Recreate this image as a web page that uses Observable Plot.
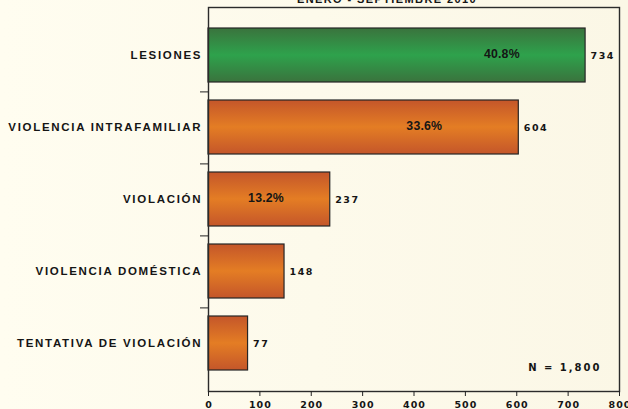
<!DOCTYPE html>
<html><head><meta charset="utf-8">
<script src="https://cdn.jsdelivr.net/npm/d3@7"></script>
<script src="https://cdn.jsdelivr.net/npm/@observablehq/plot@0.6"></script>
<style>
html,body{margin:0;padding:0;}
body{width:628px;height:409px;overflow:hidden;background:linear-gradient(to right,#FFFDF0,#FBF7E6);}
</style></head>
<body><div id="chart"></div>
<script>
const categories = ["LESIONES","VIOLENCIA INTRAFAMILIAR","VIOLACIÓN","VIOLENCIA DOMÉSTICA","TENTATIVA DE VIOLACIÓN"];
const counts = [734, 604, 237, 148, 77];
const percentLabels = ["40.8%", "33.6%", "13.2%", null, null];
const percentAt = [571, 420, 112, null, null];
const xTicks = [0, 100, 200, 300, 400, 500, 600, 700, 800];
const title = "ENERO - SEPTIEMBRE 2010";
const note = "N = 1,800";

const rows = categories.map((c, i) => ({cat: c, count: counts[i], pct: percentLabels[i], at: percentAt[i]}));

const W = 628, H = 409, mL = 208, mR = 9, mT = 7, mB = 18;
const padIn = 0.245, padOut = padIn / 2, insetY = 10;
const step = (H - mT - mB - 2 * insetY) / (categories.length - padIn + 2 * padOut);
const ink = "#151515";
const numFont = "'DejaVu Sans', Verdana, sans-serif";

const chart = Plot.plot({
  width: W, height: H,
  marginLeft: mL, marginRight: mR, marginTop: mT, marginBottom: mB,
  style: {background: "transparent", fontFamily: "'Liberation Sans', Arial, sans-serif", fontWeight: "bold", color: ink, overflow: "hidden"},
  x: {domain: [0, 800], ticks: xTicks},
  y: {domain: categories, insetTop: insetY, insetBottom: insetY, paddingInner: padIn, paddingOuter: padOut},
  marks: [
    Plot.barX(rows.slice(0, 1), {x: "count", y: "cat", fill: "url(#gGreen)", stroke: "#262626", strokeWidth: 1.2}),
    Plot.barX(rows.slice(1), {x: "count", y: "cat", fill: "url(#gOrange)", stroke: "#262626", strokeWidth: 1.2}),
    Plot.frame({stroke: "#2b2b2b", strokeWidth: 1.4}),
    Plot.axisX({ticks: xTicks, tickSize: 5, fill: "none", stroke: "#222", label: null}),
    Plot.axisX({ticks: xTicks, tickSize: 0, tickPadding: 9.5, fontSize: 9.5, fontFamily: numFont, stroke: "none", label: null, dx: 0.5}),
    Plot.axisY({tickSize: 0, tickPadding: 6.3, fontSize: 11.5, stroke: "none", label: null}),
    Plot.axisY({ticks: categories.slice(0, 4), tickSize: 8, fill: "none", stroke: "#222", label: null, dy: step / 2}),
    Plot.text([title], {frameAnchor: "top", dx: -27, dy: -12.1, text: d => d, fontSize: 11, fill: ink}),
    Plot.text(rows, {x: "count", y: "cat", text: d => String(d.count), textAnchor: "start", dx: 5, fontSize: 9.5, fontFamily: numFont, fill: ink}),
    Plot.text(rows.filter(d => d.pct), {x: "at", y: "cat", text: "pct", textAnchor: "middle", fontSize: 12.3, fill: ink, dy: -1}),
    Plot.text([note], {frameAnchor: "bottom-right", dx: -18, dy: -20.5, text: d => d, textAnchor: "end", fontSize: 10, fontFamily: numFont, fill: ink})
  ]
});

const svg = d3.select(chart);
const defs = svg.insert("defs", ":first-child");
function grad(id, edge, mid) {
  const g = defs.append("linearGradient").attr("id", id).attr("x1", 0).attr("y1", 0).attr("x2", 0).attr("y2", 1);
  [[0, edge], [0.5, mid], [1, edge]].forEach(([o, c]) => g.append("stop").attr("offset", o).attr("stop-color", c));
}
grad("gGreen", "#3A733D", "#2EA24C");
grad("gOrange", "#C4562A", "#E47D24");

svg.selectAll('g[aria-label="y-axis tick label"] text').style("letter-spacing", "1.7px");
svg.selectAll('g[aria-label="x-axis tick label"] text').style("letter-spacing", "1px");
const tg = svg.selectAll('g[aria-label="text"]').nodes();
const spacings = ["1.4px", "1.5px", "0.2px", "2px"];
tg.forEach((g, i) => d3.select(g).selectAll("text").style("letter-spacing", spacings[i]));

document.getElementById("chart").appendChild(chart);
</script>
</body></html>
